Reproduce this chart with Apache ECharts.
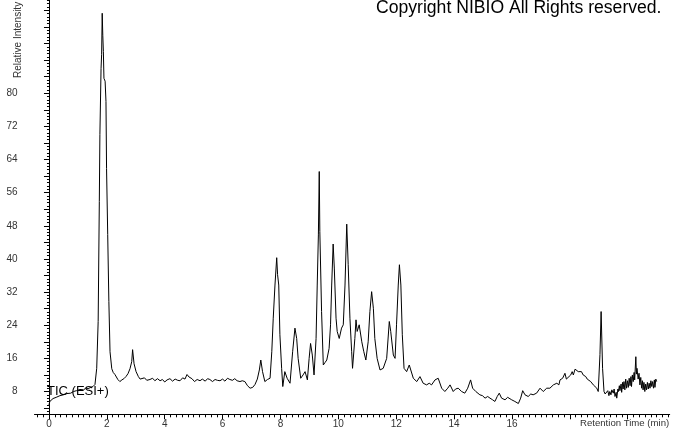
<!DOCTYPE html>
<html>
<head>
<meta charset="utf-8">
<script src="https://cdn.jsdelivr.net/npm/echarts@6/dist/echarts.min.js"></script>
<style>
  html, body { margin: 0; padding: 0; background: #fff; }
  #chart { width: 673px; height: 433px; }
</style>
</head>
<body>
<div id="chart"></div>
<script>
// retention time (min) and relative intensity
const retentionTime = [
  0.00, 0.03, 0.08, 0.14, 0.25, 0.38, 0.50, 0.62, 0.75, 0.85, 0.95, 1.07, 1.20, 1.28, 1.35, 1.45, 1.52, 1.59,
  1.65, 1.70, 1.74, 1.76, 1.80, 1.82, 1.84, 1.86, 1.88, 1.90, 1.94, 1.97, 1.99, 2.03, 2.07, 2.11, 2.17, 2.22,
  2.28, 2.33, 2.38, 2.45, 2.52, 2.59, 2.66, 2.73, 2.80, 2.86, 2.89, 2.94, 3.01, 3.09, 3.15, 3.21, 3.30, 3.38,
  3.49, 3.58, 3.66, 3.75, 3.84, 3.92, 4.00, 4.08, 4.18, 4.27, 4.36, 4.45, 4.53, 4.62, 4.70, 4.77, 4.84, 4.94,
  5.03, 5.12, 5.22, 5.30, 5.40, 5.48, 5.56, 5.65, 5.74, 5.82, 5.91, 6.00, 6.08, 6.17, 6.25, 6.34, 6.42, 6.50,
  6.60, 6.68, 6.77, 6.86, 6.95, 7.04, 7.12, 7.20, 7.27, 7.32, 7.38, 7.46, 7.55, 7.64, 7.70, 7.75, 7.81, 7.87,
  7.90, 7.94, 7.98, 8.04, 8.08, 8.15, 8.23, 8.33, 8.42, 8.50, 8.56, 8.61, 8.70, 8.78, 8.85, 8.93, 8.99, 9.04,
  9.10, 9.16, 9.23, 9.27, 9.31, 9.34, 9.36, 9.42, 9.48, 9.54, 9.60, 9.68, 9.73, 9.77, 9.82, 9.86, 9.92, 9.96,
  10.03, 10.11, 10.17, 10.23, 10.29, 10.34, 10.40, 10.46, 10.49, 10.57, 10.61, 10.65, 10.72, 10.81, 10.88, 10.95,
  11.03, 11.09, 11.15, 11.21, 11.26, 11.34, 11.44, 11.55, 11.67, 11.76, 11.81, 11.90, 11.96, 12.01, 12.07, 12.11,
  12.16, 12.21, 12.27, 12.36, 12.45, 12.50, 12.59, 12.71, 12.82, 12.93, 13.05, 13.14, 13.22, 13.34, 13.45, 13.57,
  13.68, 13.78, 13.86, 13.97, 14.05, 14.14, 14.26, 14.37, 14.47, 14.57, 14.64, 14.75, 14.89, 14.98, 15.07, 15.16,
  15.24, 15.33, 15.41, 15.49, 15.56, 15.64, 15.76, 15.85, 15.91, 15.99, 16.10, 16.22, 16.30, 16.37, 16.45, 16.56,
  16.65, 16.73, 16.85, 16.97, 17.08, 17.20, 17.31, 17.43, 17.55, 17.62, 17.66, 17.75, 17.83, 17.88, 17.94, 18.03,
  18.08, 18.12, 18.18, 18.23, 18.29, 18.35, 18.40, 18.46, 18.55, 18.60, 18.64, 18.72, 18.81, 18.86, 18.93, 18.98,
  19.04, 19.08, 19.13, 19.18, 19.22, 19.27, 19.31, 19.35, 19.38, 19.42, 19.45, 19.50, 19.53, 19.56, 19.60, 19.62,
  19.66, 19.68, 19.71, 19.73, 19.77, 19.79, 19.82, 19.84, 19.87, 19.90, 19.93, 19.96, 19.99, 20.02, 20.05, 20.08,
  20.11, 20.13, 20.16, 20.19, 20.22, 20.24, 20.28, 20.30, 20.32, 20.36, 20.39, 20.42, 20.45, 20.48, 20.51, 20.53,
  20.56, 20.59, 20.62, 20.65, 20.68, 20.71, 20.74, 20.77, 20.80, 20.83, 20.86, 20.89, 20.92, 20.94, 20.97, 21.00
];
const intensity = [
  4.8, 5.6, 6.0, 6.3, 6.6, 7.0, 7.2, 7.5, 7.6, 8.0, 8.2, 8.5, 8.4, 8.9, 8.7, 9.0, 9.2, 9.7,
  13.6, 24.9, 53.9, 70.0, 86.0, 89.4, 99.3, 94.0, 90.1, 83.6, 82.9, 78.0, 61.8, 45.9, 29.7, 17.6, 13.5, 12.6,
  12.1, 11.5, 10.9, 10.4, 10.8, 11.1, 11.6, 12.3, 13.5, 15.2, 18.1, 14.7, 12.8, 11.6, 11.0, 10.9, 11.3, 10.7,
  10.9, 11.2, 10.6, 11.1, 10.6, 10.9, 10.3, 10.8, 11.1, 10.5, 11.0, 10.7, 10.6, 11.3, 11.0, 12.1, 11.5, 11.1,
  10.4, 10.9, 10.6, 11.0, 10.5, 11.1, 10.9, 10.4, 10.9, 10.7, 10.6, 11.0, 10.5, 11.2, 10.9, 10.7, 11.1, 10.6,
  10.4, 10.6, 10.4, 9.4, 8.8, 9.0, 9.7, 11.0, 13.2, 15.6, 12.8, 10.4, 10.9, 11.2, 17.6, 25.7, 33.7, 40.3,
  36.2, 33.7, 21.7, 13.6, 9.2, 12.8, 11.2, 10.0, 17.6, 23.3, 20.8, 16.0, 11.2, 12.0, 12.8, 10.8, 16.0, 19.6,
  16.8, 12.0, 20.8, 33.7, 45.8, 61.1, 46.6, 27.3, 14.4, 15.0, 15.6, 18.4, 24.1, 33.7, 43.6, 37.8, 25.7, 22.5,
  20.8, 23.3, 24.1, 33.7, 48.4, 38.6, 25.7, 17.6, 13.6, 20.8, 25.3, 22.5, 24.1, 20.0, 17.6, 15.6,
  20.0, 27.3, 32.1, 28.1, 20.8, 16.0, 13.2, 13.6, 16.0, 24.9, 22.5, 16.8, 16.0, 24.1, 33.7, 38.6,
  33.7, 21.7, 13.6, 12.8, 14.4, 14.4, 11.2, 10.4, 11.6, 10.0, 9.6, 10.0, 9.6, 10.8, 11.2, 8.8,
  8.0, 8.8, 9.6, 8.0, 8.6, 8.8, 8.0, 7.6, 8.8, 10.8, 8.8, 8.0, 7.2, 7.0, 6.4, 6.8,
  6.4, 6.0, 5.6, 6.8, 7.6, 6.4, 6.0, 6.6, 6.8, 6.0, 5.6, 5.1, 6.4, 8.2, 7.2, 6.8,
  7.4, 7.2, 7.6, 8.8, 8.0, 8.8, 8.8, 9.6, 10.0, 9.6, 10.8, 11.2, 12.4, 11.0, 11.2, 12.0,
  12.8, 12.0, 13.4, 13.6, 12.8, 12.4, 12.8, 12.0, 11.6, 11.0, 10.8, 10.4, 9.6, 9.2, 8.8, 8.0,
  16.9, 27.3, 13.6, 8.0, 7.4, 7.2, 8.2, 7.0, 8.0, 7.2, 8.4, 7.6, 8.6, 6.8, 7.8, 6.4,
  8.6, 8.0, 9.4, 8.2, 9.8, 7.8, 10.2, 8.6, 10.4, 8.4, 11.0, 8.8, 10.6, 9.0, 11.2, 9.4,
  11.6, 9.2, 12.0, 10.4, 12.6, 10.8, 16.4, 12.2, 13.6, 11.0, 12.4, 9.6, 11.4, 8.8, 10.6, 8.4,
  10.2, 8.0, 9.8, 8.4, 10.2, 8.6, 10.0, 8.8, 10.6, 9.2, 10.4, 8.8, 10.8, 9.0, 11.0, 10.4
];
const xTickLabels = [0, 2, 4, 6, 8, 10, 12, 14, 16];
const xMajorTicks = [0, 2, 4, 6, 8, 10, 12, 14, 16, 18, 20];
const yTickLabels = [8, 16, 24, 32, 40, 48, 56, 64, 72, 80];

const FONT = '"Liberation Sans", Arial, sans-serif';

// small tick positions
const xMinorTicks = [];
for (let i = -2; i <= 107; i++) xMinorTicks.push(Math.round(i * 2) / 10);
const yMidTicks = [];
for (let v = 4; v <= 100; v += 4) yMidTicks.push(v);
const yMinorTicks = [];
for (let i = 4; i <= 128; i++) yMinorTicks.push(Math.round(i * 8) / 10);

const X_MIN = -0.5, X_MAX = 21.45, Y_MIN = 2.5, Y_MAX = 102.5;
const lineColor = '#000';

const chart = echarts.init(document.getElementById('chart'));
chart.setOption({
  animation: false,
  backgroundColor: '#fff',
  grid: {
    left: 34.5,
    right: 3.3,
    top: 0,
    bottom: 18.7,
    containLabel: false,
    outerBoundsMode: 'none'
  },
  xAxis: [
    {
      type: 'value', min: X_MIN, max: X_MAX, position: 'bottom',
      axisLine: { show: true, lineStyle: { color: lineColor, width: 1 } },
      axisTick: { show: true, customValues: xMajorTicks, length: 5, lineStyle: { color: lineColor } },
      axisLabel: { customValues: xTickLabels, fontSize: 10, color: '#333', margin: 5, fontFamily: FONT },
      splitLine: { show: false }
    },
    {
      type: 'value', min: X_MIN, max: X_MAX, position: 'bottom',
      axisLine: { show: false },
      axisTick: { show: true, customValues: xMinorTicks, length: 3, lineStyle: { color: lineColor } },
      axisLabel: { show: false },
      splitLine: { show: false }
    }
  ],
  yAxis: [
    {
      type: 'value', min: Y_MIN, max: Y_MAX, position: 'left',
      axisLine: { show: true, lineStyle: { color: lineColor, width: 1 } },
      axisTick: { show: true, customValues: yMidTicks, length: 5, lineStyle: { color: lineColor } },
      axisLabel: { customValues: yTickLabels, fontSize: 10, color: '#333', margin: 17, fontFamily: FONT },
      splitLine: { show: false }
    },
    {
      type: 'value', min: Y_MIN, max: Y_MAX, position: 'left', offset: 0,
      axisLine: { show: false },
      axisTick: { show: true, customValues: yMinorTicks, length: 2, lineStyle: { color: lineColor } },
      axisLabel: { show: false },
      splitLine: { show: false }
    }
  ],
  graphic: [
    {
      type: 'text', left: 376, top: -1,
      style: { text: 'Copyright NIBIO All Rights reserved.', font: '17.6px ' + FONT, fill: '#000' }
    },
    {
      type: 'text', left: 47, top: 385,
      style: { text: 'TIC (ESI+)', font: '13px ' + FONT, fill: '#000' }
    },
    {
      type: 'text', left: 580, top: 418,
      style: { text: 'Retention Time (min)', font: '9.6px ' + FONT, fill: '#333' }
    },
    {
      type: 'text', x: 18, y: 78, rotation: Math.PI / 2,
      style: { text: 'Relative Intensity', font: '10px ' + FONT, fill: '#333', align: 'left', verticalAlign: 'middle' }
    }
  ],
  series: [
    {
      type: 'line',
      xAxisIndex: 0,
      yAxisIndex: 0,
      data: retentionTime.map((t, i) => [t, intensity[i]]),
      showSymbol: false,
      lineStyle: { color: '#000', width: 1 },
      silent: true
    }
  ]
});
</script>
</body>
</html>
